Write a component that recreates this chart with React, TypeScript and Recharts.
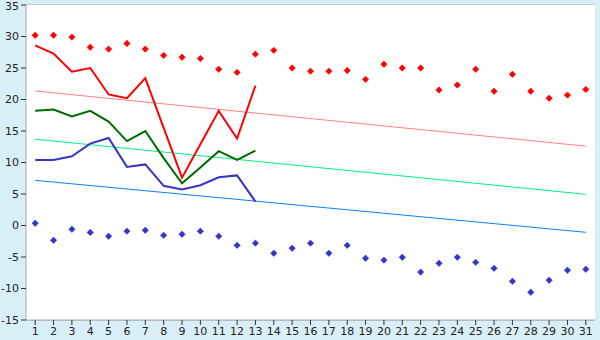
import { LineChart, Line, XAxis, YAxis, CartesianGrid } from 'recharts'

const days = [1, 2, 3, 4, 5, 6, 7, 8, 9, 10, 11, 12, 13, 14, 15, 16, 17, 18, 19, 20, 21, 22, 23, 24, 25, 26, 27, 28, 29, 30, 31]

const recordHigh = [30.2, 30.2, 29.9, 28.3, 28.0, 28.9, 28.0, 27.0, 26.7, 26.5, 24.8, 24.3, 27.2, 27.8, 25.0, 24.5, 24.5, 24.6, 23.2, 25.6, 25.0, 25.0, 21.5, 22.3, 24.8, 21.3, 24.0, 21.3, 20.2, 20.7, 21.6]
const recordLow = [0.35, -2.35, -0.6, -1.1, -1.7, -0.9, -0.76, -1.56, -1.4, -0.9, -1.7, -3.15, -2.8, -4.4, -3.6, -2.8, -4.4, -3.15, -5.2, -5.5, -5.05, -7.4, -6.0, -5.05, -5.85, -6.8, -8.86, -10.6, -8.7, -7.1, -6.95]

const maxTemp = [28.6, 27.3, 24.4, 25.0, 20.8, 20.2, 23.4, 15.5, 7.6, 12.9, 18.2, 13.8, 22.2]
const meanTemp = [18.2, 18.4, 17.3, 18.2, 16.5, 13.4, 15.0, 10.7, 6.7, 9.2, 11.8, 10.4, 11.9]
const minTemp = [10.4, 10.4, 11.0, 13.0, 13.9, 9.3, 9.7, 6.3, 5.7, 6.4, 7.65, 7.95, 3.8]

// trend lines: value on the first and the last day
const normalHigh = [21.35, 12.6]
const normalMean = [13.7, 4.95]
const normalLow = [7.17, -1.08]

const yTicks = [-15, -10, -5, 0, 5, 10, 15, 20, 25, 30, 35]

const last = days.length - 1
const data = days.map((day, i) => ({
  day,
  recHigh: recordHigh[i],
  recLow: recordLow[i],
  max: i < maxTemp.length ? maxTemp[i] : null,
  mean: i < meanTemp.length ? meanTemp[i] : null,
  min: i < minTemp.length ? minTemp[i] : null,
  nHigh: i === 0 ? normalHigh[0] : i === last ? normalHigh[1] : null,
  nMean: i === 0 ? normalMean[0] : i === last ? normalMean[1] : null,
  nLow: i === 0 ? normalLow[0] : i === last ? normalLow[1] : null,
}))

const diamond = (color: string) => (props: any) => {
  const { cx, cy, index } = props
  if (cx == null || cy == null) return <g key={index} />
  const r = 3.2
  return (
    <path
      key={index}
      d={`M${cx},${cy - r}L${cx + r},${cy}L${cx},${cy + r}L${cx - r},${cy}Z`}
      fill={color}
      stroke={color}
      strokeWidth={0.6}
    />
  )
}

const tickStyle = { fill: '#222', fontSize: 11, fontFamily: 'DejaVu Sans' }

export default function App() {
  return (
    <div style={{ position: 'absolute', left: 0, top: 0, width: 600, height: 340, background: '#d9eff7' }}>
      <LineChart width={600} height={340} data={data} margin={{ top: 5, right: 5, left: 0, bottom: 0 }}>
        <rect x={26} y={5} width={569} height={315} fill="#fff" />
        <CartesianGrid vertical={false} stroke="#aaa" strokeWidth={1} />
        <XAxis
          dataKey="day"
          type="number"
          domain={[0.5, 31.5]}
          ticks={days}
          interval={0}
          height={20}
          axisLine={{ stroke: '#aaa' }}
          tickLine={{ stroke: '#333' }}
          tickSize={5}
          tick={tickStyle}
        />
        <YAxis
          yAxisId="l"
          domain={[-15, 35]}
          ticks={yTicks}
          width={26}
          axisLine={{ stroke: '#aaa' }}
          tickLine={{ stroke: '#333' }}
          tickSize={5}
          tick={tickStyle}
          allowDataOverflow
        />
        <YAxis
          yAxisId="r"
          orientation="right"
          domain={[-15, 35]}
          width={0}
          tick={false}
          tickLine={false}
          axisLine={{ stroke: '#aaa' }}
        />
        <Line yAxisId="l" dataKey="nHigh" stroke="#ff8080" strokeWidth={1} dot={false} connectNulls isAnimationActive={false} />
        <Line yAxisId="l" dataKey="nMean" stroke="#00f080" strokeWidth={1} dot={false} connectNulls isAnimationActive={false} />
        <Line yAxisId="l" dataKey="nLow" stroke="#0a80ff" strokeWidth={1} dot={false} connectNulls isAnimationActive={false} />
        <Line yAxisId="l" dataKey="max" stroke="#ff0000" strokeWidth={2} dot={false} isAnimationActive={false} />
        <Line yAxisId="l" dataKey="mean" stroke="#006a00" strokeWidth={2} dot={false} isAnimationActive={false} />
        <Line yAxisId="l" dataKey="min" stroke="#3535c8" strokeWidth={2} dot={false} isAnimationActive={false} />
        <Line yAxisId="l" dataKey="recHigh" stroke="none" dot={diamond('#ff0000')} activeDot={false} isAnimationActive={false} />
        <Line yAxisId="l" dataKey="recLow" stroke="none" dot={diamond('#3535c8')} activeDot={false} isAnimationActive={false} />
      </LineChart>
    </div>
  )
}
